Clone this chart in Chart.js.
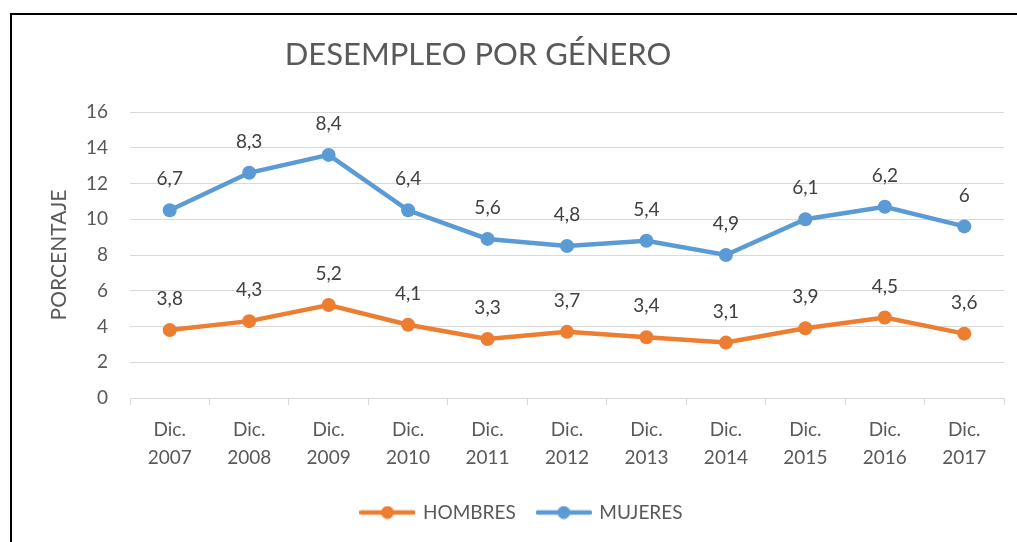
<!DOCTYPE html>
<html>
<head>
<meta charset="utf-8">
<script src="https://cdn.jsdelivr.net/npm/chart.js@4"></script>
<style>
  html, body { margin: 0; padding: 0; background: #fff; }
  #wrap { position: relative; width: 1017px; height: 542px; overflow: hidden; }
  #frame { position: absolute; left: 10px; top: 13px; width: 1100px; height: 600px;
           border-left: 2px solid #000; border-top: 2px solid #000; }
  canvas { position: absolute; left: 0; top: 0; }
</style>
</head>
<body>
<div id="wrap">
  <div id="frame"></div>
  <canvas id="chart" width="1017" height="542"></canvas>
</div>
<script>
const years = ['2007', '2008', '2009', '2010', '2011', '2012', '2013', '2014', '2015', '2016', '2017']
const hombres = [3.8, 4.3, 5.2, 4.1, 3.3, 3.7, 3.4, 3.1, 3.9, 4.5, 3.6]
const mujeres = [6.7, 8.3, 8.4, 6.4, 5.6, 4.8, 5.4, 4.9, 6.1, 6.2, 6.0]

const orange = '#ED7D31'
const blue = '#5B9BD5'
const fontName = 'Lato, "Open Sans", sans-serif'

// legend swatch: short line with a dot in the middle
function swatch(color) {
    const c = document.createElement('canvas')
    c.width = 56
    c.height = 14
    const g = c.getContext('2d')
    g.strokeStyle = color
    g.lineWidth = 4.5
    g.lineCap = 'round'
    g.beginPath()
    g.moveTo(2, 7)
    g.lineTo(54, 7)
    g.stroke()
    g.fillStyle = color
    g.beginPath()
    g.arc(28, 7, 6.5, 0, Math.PI * 2)
    g.fill()
    return c
}

// chart title (sits a bit left of centre, like the original) + value labels
const extras = {
    id: 'extras',
    afterDatasetsDraw(chart) {
        const ctx = chart.ctx
        ctx.save()
        ctx.fillStyle = '#595959'
        ctx.textAlign = 'center'
        ctx.textBaseline = 'middle'
        ctx.font = '31px ' + fontName
        ctx.fillText('DESEMPLEO POR GÉNERO', 478, 55)

        ctx.font = '19px ' + fontName
        ctx.fillStyle = '#404040'
        chart.data.datasets.forEach((ds, i) => {
            chart.getDatasetMeta(i).data.forEach((pt, j) => {
                // own value, not the stacked total
                const txt = String(ds.data[j]).replace('.', ',')
                ctx.fillText(txt, pt.x, pt.y - 31)
            })
        })
        ctx.restore()
    }
}

new Chart(document.getElementById('chart'), {
    type: 'line',
    data: {
        labels: years.map(y => ['Dic.', y]),
        datasets: [
            {
                label: 'HOMBRES',
                data: hombres,
                borderColor: orange,
                backgroundColor: orange,
                borderWidth: 4.5,
                pointRadius: 7,
                pointBackgroundColor: orange,
                pointBorderWidth: 0,
                tension: 0,
                fill: false,
            },
            {
                label: 'MUJERES',
                data: mujeres,
                borderColor: blue,
                backgroundColor: blue,
                borderWidth: 4.5,
                pointRadius: 7,
                pointBackgroundColor: blue,
                pointBorderWidth: 0,
                tension: 0,
                fill: false,
            },
        ],
    },
    options: {
        responsive: false,
        animation: false,
        layout: { padding: { left: 40, right: 13, top: 112, bottom: 10 } },
        plugins: {
            title: { display: false },
            legend: {
                position: 'bottom',
                labels: {
                    color: '#595959',
                    font: { family: fontName, size: 19 },
                    usePointStyle: true,
                    pointStyleWidth: 52,
                    boxHeight: 14,
                    padding: 22,
                    generateLabels(chart) {
                        return chart.data.datasets.map((ds, i) => ({
                            text: ds.label,
                            pointStyle: swatch(ds.borderColor),
                            fillStyle: ds.borderColor,
                            strokeStyle: ds.borderColor,
                            lineWidth: 0,
                            fontColor: '#595959',
                            datasetIndex: i,
                            hidden: false,
                        }))
                    },
                },
            },
            tooltip: { enabled: false },
        },
        scales: {
            x: {
                offset: true,
                grid: {
                    display: true,
                    offset: true,
                    drawOnChartArea: false,
                    drawTicks: true,
                    tickLength: 7,
                    color: '#d9d9d9',
                },
                border: { display: true, color: '#d9d9d9', width: 1 },
                ticks: {
                    color: '#595959',
                    font: { family: fontName, size: 19, lineHeight: 1.47 },
                    padding: 11,
                    maxRotation: 0,
                    autoSkip: false,
                },
                afterFit(scale) { scale.height = 83 },
            },
            y: {
                stacked: true,
                min: 0,
                max: 16,
                ticks: {
                    stepSize: 2,
                    color: '#595959',
                    font: { family: fontName, size: 19 },
                    padding: 22,
                },
                grid: { color: '#d9d9d9', drawTicks: false },
                border: { display: false },
                title: {
                    display: true,
                    text: 'PORCENTAJE',
                    color: '#595959',
                    font: { family: fontName, size: 21 },
                    padding: { top: 7, bottom: 0 },
                },
                afterFit(scale) { scale.width = 90 },
            },
        },
    },
    plugins: [extras],
})
</script>
</body>
</html>
